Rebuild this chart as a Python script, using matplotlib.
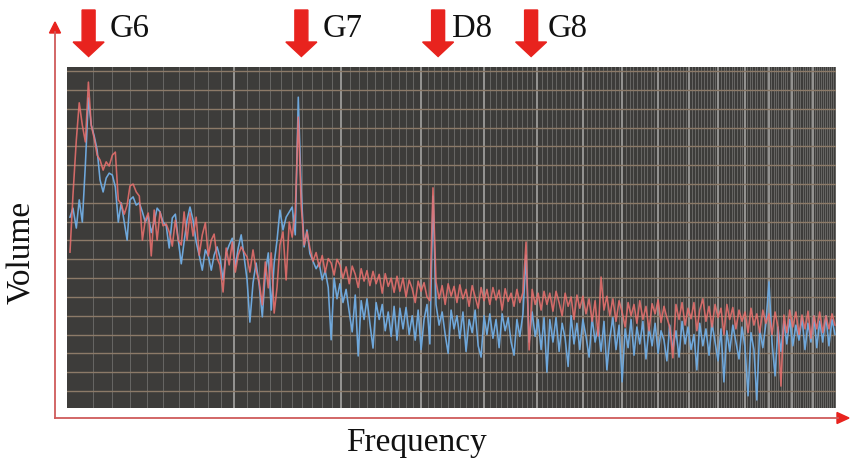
import matplotlib
matplotlib.use("Agg")
import matplotlib.pyplot as plt
from matplotlib.patches import Polygon
from matplotlib.lines import Line2D
from matplotlib.ticker import NullLocator

# ---------------- data ----------------
freq_hz = [
    1490, 1504, 1520, 1534, 1549, 1564, 1579, 1593, 1608, 1623,
    1638, 1654, 1670, 1686, 1703, 1719, 1735, 1751, 1768, 1784,
    1800, 1818, 1836, 1854, 1872, 1889, 1907, 1925, 1943, 1961,
    1979, 1998, 2018, 2037, 2057, 2077, 2096, 2116, 2135, 2155,
    2175, 2196, 2218, 2239, 2261, 2283, 2304, 2326, 2347, 2369,
    2390, 2414, 2438, 2461, 2485, 2509, 2532, 2556, 2580, 2604,
    2627, 2653, 2679, 2705, 2732, 2758, 2784, 2810, 2836, 2862,
    2888, 2916, 2945, 2974, 3002, 3031, 3060, 3088, 3117, 3145,
    3174, 3205, 3237, 3268, 3300, 3331, 3363, 3394, 3426, 3457,
    3489, 3523, 3558, 3593, 3627, 3662, 3696, 3731, 3765, 3800,
    3835, 3873, 3911, 3949, 3987, 4025, 4063, 4101, 4139, 4177,
    4215, 4257, 4298, 4340, 4382, 4424, 4465, 4507, 4549, 4591,
    4633, 4679, 4724, 4770, 4816, 4862, 4908, 4954, 5000, 5046,
    5092, 5142, 5193, 5243, 5294, 5344, 5395, 5445, 5496, 5546,
    5597, 5652, 5708, 5763, 5819, 5874, 5930, 5985, 6041, 6096,
    6152, 6213, 6274, 6335, 6396, 6457, 6518, 6579, 6640, 6701,
    6762, 6829, 6896, 6963, 7030, 7097, 7164, 7231, 7298, 7365,
    7432, 7505, 7579, 7653, 7727, 7800, 7874, 7948, 8021, 8095,
    8169, 8250, 8331, 8412, 8493, 8574, 8655, 8736, 8817, 8898,
    8979, 9068, 9157, 9246, 9335, 9424, 9513, 9602, 9691, 9780,
    9869, 9967, 10064, 10162, 10260, 10358, 10456, 10554, 10651, 10749,
    10847, 10955, 11062, 11170, 11277, 11385, 11492, 11600, 11707, 11815,
    11922, 12040, 12158, 12277, 12395, 12513, 12631, 12749, 12868, 12986,
    13104, 13234, 13364, 13494, 13624, 13754, 13883, 14013, 14143, 14273,
    14403, 14546, 14689, 14831, 14974, 15117, 15260, 15403, 15545, 15688,
    15831, 15988, 16145, 16302, 16459, 16616,
]

vol_red_db = [
    -48.1, -32.9, -18.3, -8.4, -14.3, -18.8, -2.9, -14.3, -17.8, -22.3,
    -23.6, -26.3, -24.1, -25.2, -22.3, -21.5, -34.2, -35.3, -38.0, -35.6,
    -30.5, -30.0, -32.1, -33.2, -44.9, -39.6, -37.7, -49.1, -36.9, -44.9,
    -37.4, -41.1, -40.6, -42.7, -46.5, -39.6, -44.9, -46.2, -37.4, -44.9,
    -37.7, -43.8, -38.8, -48.9, -43.5, -40.3, -49.1, -44.9, -43.3, -49.7,
    -51.5, -58.7, -47.0, -51.5, -45.4, -53.4, -48.9, -46.7, -48.1, -49.4,
    -53.4, -47.5, -52.9, -56.0, -62.1, -50.7, -57.6, -48.3, -64.3, -57.4,
    -46.2, -42.7, -55.5, -40.1, -44.1, -37.4, -12.2, -35.6, -46.2, -42.7,
    -47.0, -50.5, -48.2, -52.0, -49.0, -53.5, -49.8, -51.0, -54.2, -50.0,
    -51.5, -55.0, -52.0, -56.5, -51.8, -54.0, -57.5, -52.5, -55.8, -53.0,
    -57.0, -53.2, -56.5, -54.0, -59.0, -53.8, -57.2, -55.0, -58.8, -54.5,
    -58.5, -55.0, -60.0, -55.5, -57.8, -61.5, -55.8, -58.5, -56.2, -60.0,
    -61.0, -31.0, -56.0, -60.5, -57.0, -62.0, -56.5, -59.8, -57.2, -61.5,
    -56.8, -60.5, -58.0, -62.5, -57.0, -60.0, -63.0, -57.5, -61.0, -58.0,
    -62.0, -57.5, -60.8, -58.2, -63.5, -57.8, -61.2, -59.0, -62.5, -58.0,
    -61.5, -58.8, -45.4, -74.1, -58.0, -62.0, -59.0, -63.5, -58.5, -62.0,
    -59.0, -63.8, -58.5, -61.5, -65.0, -59.0, -62.5, -60.0, -66.0, -59.5,
    -63.0, -59.8, -64.5, -60.5, -66.5, -61.0, -70.4, -54.7, -63.5, -59.8,
    -65.0, -60.5, -66.5, -61.0, -64.0, -68.0, -61.5, -65.0, -62.0, -67.0,
    -61.0, -66.0, -62.5, -69.0, -61.8, -64.5, -60.8, -66.8, -62.5, -65.5,
    -68.0, -76.2, -62.0, -66.0, -61.5, -67.5, -63.0, -65.8, -61.5, -69.0,
    -63.5, -60.5, -66.5, -62.5, -68.0, -62.0, -65.5, -63.0, -70.0, -62.0,
    -66.0, -62.8, -68.5, -63.5, -66.5, -64.0, -69.5, -63.0, -67.5, -64.5,
    -69.5, -63.5, -67.0, -64.5, -70.0, -64.0, -68.0, -83.7, -64.8, -69.5,
    -63.5, -68.0, -64.0, -70.0, -64.8, -68.5, -63.8, -71.0, -65.0, -68.5,
    -64.0, -69.5, -65.0, -68.5, -64.5, -67.5,
]

vol_blue_db = [
    -38.8, -36.4, -41.7, -34.2, -40.1, -24.9, -7.1, -14.3, -17.2, -20.9,
    -28.9, -32.1, -28.4, -27.1, -27.6, -30.8, -40.1, -35.0, -40.1, -44.9,
    -34.2, -33.4, -35.6, -35.0, -37.4, -40.1, -38.5, -42.9, -40.1, -36.4,
    -37.4, -40.1, -41.1, -47.0, -39.0, -38.0, -44.9, -51.2, -45.4, -39.6,
    -36.1, -39.6, -45.4, -48.9, -52.9, -47.5, -49.1, -52.9, -48.9, -46.7,
    -49.4, -55.5, -48.3, -46.2, -44.4, -52.0, -47.0, -43.5, -49.4, -55.5,
    -66.7, -56.3, -51.0, -56.8, -65.3, -53.6, -48.3, -63.5, -51.0, -44.9,
    -36.9, -42.2, -38.8, -37.4, -36.1, -43.5, -6.9, -31.6, -46.7, -42.2,
    -48.5, -50.5, -52.5, -51.0, -55.5, -53.0, -57.5, -71.4, -55.0, -60.5,
    -56.5, -61.5, -58.0, -64.0, -69.3, -59.5, -75.7, -61.0, -66.0, -60.5,
    -67.0, -73.6, -61.5, -66.0, -62.0, -69.0, -64.0, -70.5, -62.5, -71.5,
    -63.0, -68.5, -62.8, -70.0, -65.0, -71.5, -63.5, -74.0, -66.0, -62.0,
    -72.5, -33.2, -62.0, -67.5, -64.0, -70.0, -75.0, -63.5, -68.5, -65.0,
    -71.0, -64.0, -74.5, -66.0, -69.5, -63.5, -73.0, -76.0, -65.0, -70.0,
    -64.5, -71.0, -66.0, -73.5, -64.5, -69.0, -65.5, -72.0, -75.5, -66.0,
    -70.5, -64.5, -48.9, -72.0, -64.0, -70.5, -66.0, -74.0, -65.5, -80.0,
    -66.0, -72.0, -65.5, -74.5, -67.0, -71.0, -78.5, -65.0, -72.5, -67.0,
    -74.0, -66.0, -70.5, -76.0, -65.5, -72.0, -68.0, -74.5, -66.5, -79.4,
    -71.0, -65.5, -74.0, -67.5, -82.6, -68.5, -73.5, -66.0, -75.5, -68.0,
    -72.5, -66.5, -76.5, -68.0, -73.0, -67.0, -75.0, -69.0, -71.5, -77.0,
    -67.5, -74.0, -69.0, -76.0, -66.5, -72.5, -68.0, -74.0, -70.0, -79.4,
    -67.0, -73.0, -68.5, -75.5, -67.0, -72.0, -77.0, -68.5, -82.6, -69.0,
    -74.5, -67.5, -72.0, -76.5, -68.0, -73.5, -86.3, -69.5, -74.0, -87.4,
    -68.5, -73.5, -67.0, -56.0, -72.0, -81.0, -68.0, -74.5, -66.5, -72.5,
    -66.0, -73.0, -67.5, -71.5, -65.5, -74.0, -67.0, -72.0, -65.0, -73.5,
    -66.5, -72.0, -65.0, -73.0, -66.0, -70.0,
]

note_labels = ["G6", "G7", "D8", "G8"]
note_arrow_hz = [1580, 3090, 4755, 6375]
note_text_hz = [1686, 3299, 4971, 6725]

grid_major_hz = [2500, 3500, 4500, 5500, 6500, 7500, 8500, 9500,
                 10500, 11500, 12500, 13500, 14500, 15500]
grid_minor_hz = list(range(1600, 16700, 100))
grid_db = list(range(0, -90, -5))

x_label = "Frequency"
y_label = "Volume"

# ---------------- figure ----------------
W, H = 851, 470
fig = plt.figure(figsize=(W / 100, H / 100), dpi=100)
fig.patch.set_facecolor("white")

def fx(px):
    return px / W

def fy(py):
    return (H - py) / H

ax = fig.add_axes([67 / W, (H - 407.7) / H, 769 / W, 341 / H])
ax.set_facecolor("#3d3c3a")
ax.set_xscale("log")
ax.set_xlim(1476, 16668)
ax.set_ylim(-89.45, 1.2)

for f in grid_minor_hz:
    if f not in grid_major_hz:
        ax.axvline(f, color="#686765", lw=0.7, zorder=1)
for f in grid_major_hz:
    ax.axvline(f, color="#a5a4a2", lw=1.2, zorder=1)
for d in grid_db:
    ax.axhline(d, color="#8c7a68", lw=1.0, zorder=1)

ax.plot(freq_hz, vol_blue_db, color="#6fa8dc", lw=1.15, zorder=3)
ax.plot(freq_hz, vol_red_db, color="#e8706e", lw=1.15, alpha=0.88, zorder=4)

ax.xaxis.set_major_locator(NullLocator())
ax.xaxis.set_minor_locator(NullLocator())
ax.yaxis.set_major_locator(NullLocator())
ax.yaxis.set_minor_locator(NullLocator())
for s in ax.spines.values():
    s.set_visible(False)

# axis arrows
axis_col = "#cf5a5a"
head_col = "#e8231e"
fig.add_artist(Line2D([fx(55), fx(55)], [fy(418), fy(32)], color=axis_col,
                      lw=1.3, transform=fig.transFigure))
fig.add_artist(Polygon([[fx(49.5), fy(33)], [fx(60.5), fy(33)], [fx(55), fy(22)]],
                       closed=True, color=head_col, transform=fig.transFigure))
fig.add_artist(Line2D([fx(55), fx(838)], [fy(418), fy(418)], color=axis_col,
                      lw=1.3, transform=fig.transFigure))
fig.add_artist(Polygon([[fx(837), fy(412.5)], [fx(837), fy(423.5)], [fx(849), fy(418)]],
                       closed=True, color=head_col, transform=fig.transFigure))

# note arrows and labels
serif = ["Liberation Serif", "DejaVu Serif"]
for lab, fa, ft in zip(note_labels, note_arrow_hz, note_text_hz):
    cx = ax.transData.transform((fa, -40))[0]
    pts = [(cx - 6.5, 10), (cx + 6.5, 10), (cx + 6.5, 42), (cx + 15.5, 42),
           (cx, 56.5), (cx - 15.5, 42), (cx - 6.5, 42)]
    fig.add_artist(Polygon([[fx(x), fy(y)] for x, y in pts], closed=True,
                           color=head_col, transform=fig.transFigure))
    tx = ax.transData.transform((ft, -40))[0]
    fig.text(fx(tx), fy(37), lab, fontsize=23.5, family=serif,
             ha="left", va="baseline", color="#111111")

fig.text(fx(22), fy(252), y_label, rotation=90, fontsize=24, family=serif,
         ha="center", va="center", color="#111111")
fig.text(fx(416), fy(443), x_label, fontsize=24, family=serif,
         ha="center", va="center", color="#111111")

fig.savefig("out.png", dpi=100)
